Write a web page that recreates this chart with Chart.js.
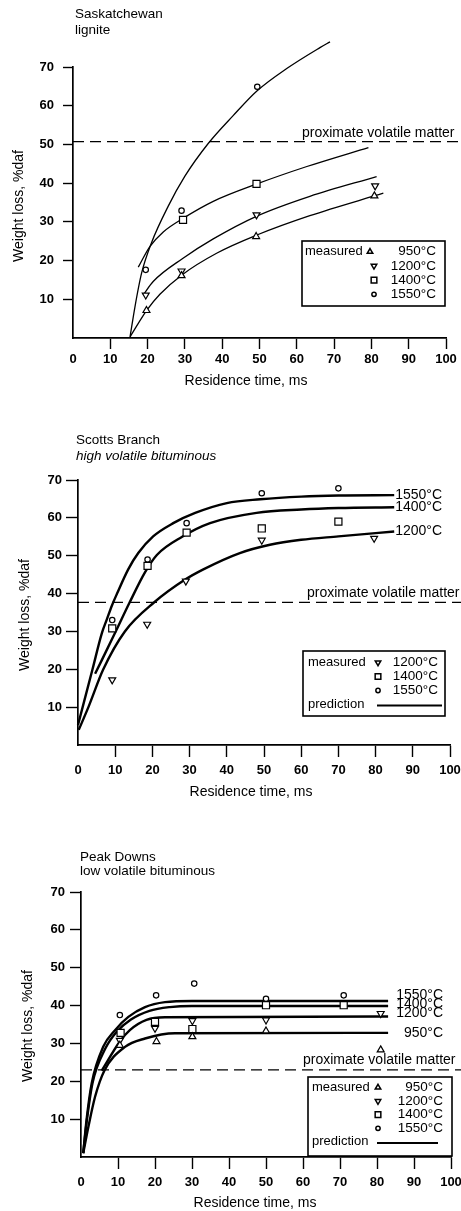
<!DOCTYPE html>
<html>
<head>
<meta charset="utf-8">
<script src="https://cdn.jsdelivr.net/npm/chart.js@4.4.1/dist/chart.umd.min.js"></script>
<style>
  html, body { margin: 0; padding: 0; background: #fff; }
  body { width: 461px; height: 1211px; position: relative; overflow: hidden; }
  canvas { position: absolute; left: 0; }
</style>
</head>
<body>
<canvas id="c1" width="461" height="400" style="top:0px"></canvas>
<canvas id="c2" width="461" height="400" style="top:400px"></canvas>
<canvas id="c3" width="461" height="411" style="top:800px"></canvas>
<script>
// ---- values: [residence time ms, weight loss %daf] ----
const timeTicks = [0, 10, 20, 30, 40, 50, 60, 70, 80, 90, 100];
const lossTicks = [10, 20, 30, 40, 50, 60, 70];

// Saskatchewan lignite
const sask950Pts  = [[19.7, 7.1], [29.1, 16.1], [49.1, 26.2], [80.8, 36.7]];
const sask1200Pts = [[19.5, 11.1], [29.1, 17.3], [49.2, 31.8], [81, 39.3]];
const sask1400Pts = [[29.5, 30.5], [49.2, 39.8]];
const sask1550Pts = [[19.5, 17.6], [29.1, 32.9], [49.4, 64.9], [66.9, 75.3]];
const sask950Curve  = [[15.3, 0.3], [19.8, 7.2], [23.3, 11.3], [29.2, 16.3], [38.5, 21.9], [49.3, 26.6], [63.5, 31.6], [83.2, 37.4]];
const sask1200Curve = [[18.8, 11.1], [21.5, 14.6], [29.5, 20.6], [37.6, 25.6], [49.3, 31.5], [63.5, 36.6], [81.4, 41.7]];
const sask1400Curve = [[17.5, 18.3], [20.6, 23.6], [24.2, 27.4], [29.5, 30.9], [37.6, 35.3], [49.3, 39.8], [62.7, 44.3], [79.2, 49.2]];
const sask1550Curve = [[15.3, 0.3], [16.6, 8], [18.4, 16.8], [21, 24.5], [25.5, 34], [30, 41.8], [36.3, 50.3], [43, 57.5], [49.3, 63.8], [57.3, 69.6], [66.2, 75], [68.9, 76.5]];
const saskProximate = 50.7;
const saskTemps = ['950', '1200', '1400', '1550'];

// Scotts Branch high volatile bituminous
const scotts1200Pts = [[9.2, 17.2], [18.6, 31.9], [29, 43.3], [49.4, 54.1], [79.6, 54.6]];
const scotts1400Pts = [[9.2, 30.8], [18.7, 47.3], [29.2, 56.1], [49.4, 57.2], [70, 59]];
const scotts1550Pts = [[9.2, 33], [18.7, 49], [29.2, 58.6], [49.4, 66.5], [70, 67.8]];
const scotts1200Curve = [[0.2, 4], [2.8, 10], [6.8, 20], [12.6, 30], [20.5, 37.7], [28.8, 43.7], [33.7, 46.4], [43.5, 50.7], [51.6, 52.9], [60, 54.2], [70, 55.1], [85, 56.4]];
const scotts1400Curve = [[4.6, 18.8], [10.2, 30.1], [13.8, 37.5], [18, 45.6], [21.2, 50.2], [28, 55], [35.5, 58.6], [48, 61.3], [60, 62.2], [70, 62.6], [85, 62.8]];
const scotts1550Curve = [[0, 5.3], [3.9, 20], [6.4, 29.5], [7.8, 33.3], [9.1, 36.8], [10.5, 40], [13.5, 46.4], [16.2, 50.7], [20.2, 55.1], [25.6, 58.6], [31.5, 61.3], [40, 63.9], [49, 64.9], [60, 65.6], [70, 65.9], [85, 66]];
const scottsProximate = 37.7;
const scottsTemps = ['1200', '1400', '1550'];

// Peak Downs low volatile bituminous
const peak950Pts  = [[10.5, 29.5], [20.4, 30.5], [30.1, 31.8], [50, 33.3], [81, 28.3]];
const peak1200Pts = [[10.5, 30.8], [20, 34], [30.1, 36], [50, 36.2], [81, 37.9]];
const peak1400Pts = [[10.7, 32.8], [20, 35.7], [30.1, 33.8], [50, 40.1], [71, 40.1]];
const peak1550Pts = [[10.5, 37.5], [20.3, 42.7], [30.6, 45.8], [50, 41.8], [71, 42.7]];
const peak950Curve  = [[0.6, 1], [2, 8], [3.8, 15.9], [6.3, 22.8], [11.9, 29.1], [17.3, 31.3], [25.4, 32.7], [83, 32.8]];
const peak1200Curve = [[5.6, 22.8], [10.5, 30.5], [13.2, 33.5], [17.7, 36.2], [22.7, 36.9], [83, 37.1]];
const peak1400Curve = [[0.6, 1], [1.6, 9.8], [3.1, 19.5], [6.5, 28.5], [9.6, 33], [13.5, 36.3], [18.5, 38.6], [24, 39.6], [30, 39.9], [83, 39.9]];
const peak1550Curve = [[0.6, 1], [1.5, 9.8], [2.9, 19.5], [6, 29.1], [9.2, 33.5], [12.8, 37], [17.3, 39.6], [22.7, 40.9], [30, 41.2], [83, 41.2]];
const peakProximate = 23.0;
const peakTemps = ['950', '1200', '1400', '1550'];

// ---- drawing ----
const INK = '#000';
const SANS = "'Liberation Sans', Arial, Helvetica, sans-serif";
const MARKS = {
  '950':  { pointStyle: 'triangle', rotation: 0,   radius: 4 },
  '1200': { pointStyle: 'triangle', rotation: 180, radius: 4 },
  '1400': { pointStyle: 'rect',     rotation: 0,   radius: 5 },
  '1550': { pointStyle: 'circle',   rotation: 0,   radius: 2.7 }
};
const xy = pts => pts.map(([x, y]) => ({ x, y }));
const last = arr => arr[arr.length - 1];

function curveSet(pts, width) {
  return { data: xy(pts), borderColor: INK, borderWidth: width, pointRadius: 0,
    cubicInterpolationMode: 'monotone', clip: false, order: 2 };
}
function pointSet(pts, temp) {
  const m = MARKS[temp];
  return { data: xy(pts), showLine: false, pointStyle: m.pointStyle, pointRotation: m.rotation,
    pointRadius: m.radius, pointBorderWidth: 1.2, pointBorderColor: INK,
    pointBackgroundColor: '#fff', clip: false, order: 1 };
}
function dashSet(level) {
  return { data: [{ x: 0, y: level }, { x: 104, y: level }], borderColor: INK, borderWidth: 1.3,
    borderDash: [11, 6], pointRadius: 0, clip: false, order: 3 };
}

function text(ctx, str, x, y, o = {}) {
  ctx.save();
  ctx.font = `${o.style || ''} ${o.size || 14}px ${SANS}`;
  ctx.fillStyle = INK;
  ctx.textAlign = o.align || 'left';
  ctx.textBaseline = 'middle';
  if (o.rotate) { ctx.translate(x, y); ctx.rotate(o.rotate); ctx.fillText(str, 0, 0); }
  else ctx.fillText(str, x, y);
  ctx.restore();
}
function mark(ctx, temp, x, y) {
  const m = MARKS[temp];
  ctx.save();
  ctx.strokeStyle = INK; ctx.fillStyle = '#fff'; ctx.lineWidth = 1.5;
  Chart.helpers.drawPoint(ctx, { pointStyle: m.pointStyle, rotation: m.rotation, radius: m.radius * 0.8, borderWidth: 1.5 }, x, y);
  ctx.restore();
}
function legend(ctx, lg) {
  ctx.save();
  ctx.strokeStyle = INK; ctx.lineWidth = 1.6;
  ctx.strokeRect(lg.x, lg.y, lg.w, lg.h);
  ctx.restore();
  lg.temps.forEach((t, i) => {
    const y = lg.row0 + i * lg.dy;
    if (i === 0) text(ctx, 'measured', lg.textLeft, y, { size: 13 });
    mark(ctx, t, i === 0 ? lg.firstMarkX : lg.markX, y);
    text(ctx, t + '°C', lg.tempRight, y, { size: 13.5, align: 'right' });
  });
  if (lg.prediction) {
    const y = lg.row0 + lg.temps.length * lg.dy;
    text(ctx, 'prediction', lg.textLeft, y, { size: 13 });
    ctx.save();
    ctx.strokeStyle = INK; ctx.lineWidth = 2;
    ctx.beginPath(); ctx.moveTo(lg.lineFrom, y + 1); ctx.lineTo(lg.lineTo, y + 1); ctx.stroke();
    ctx.restore();
  }
}

const extras = {};
const extrasPlugin = {
  id: 'extras',
  afterDraw(chart) {
    const fn = extras[chart.canvas.id];
    if (fn) fn(chart.ctx, chart.scales.x, chart.scales.y);
  }
};

function makePanel(id, height, area, ax, datasets) {
  const tickFont = { family: SANS, size: 13, weight: 'bold' };
  new Chart(document.getElementById(id), {
    type: 'line',
    data: { datasets },
    options: {
      responsive: false, animation: false, events: [],
      layout: { padding: { left: 0, right: 461 - area.right, top: area.top, bottom: 0 } },
      plugins: { legend: { display: false }, tooltip: { enabled: false } },
      scales: {
        x: {
          type: 'linear', min: 0, max: 100,
          afterBuildTicks: s => { s.ticks = timeTicks.map(v => ({ value: v })); },
          afterFit: s => { s.height = height - area.bottom; s.paddingLeft = 0; s.paddingRight = 0; },
          grid: { drawOnChartArea: false, tickLength: ax.xTick, tickWidth: 1.4,
            tickColor: c => (c.tick && c.tick.value === 0) ? 'rgba(0,0,0,0)' : INK },
          border: { color: INK, width: 1.7 },
          ticks: { color: INK, font: tickFont, padding: ax.xPad, maxRotation: 0, autoSkip: false }
        },
        y: {
          type: 'linear', min: 0, max: 70,
          afterBuildTicks: s => { s.ticks = lossTicks.map(v => ({ value: v })); },
          afterFit: s => { s.width = area.left; s.paddingTop = 0; s.paddingBottom = 0; },
          grid: { drawOnChartArea: false, tickLength: ax.yTick, tickWidth: 1.4, tickColor: INK },
          border: { color: INK, width: 1.7 },
          ticks: { color: INK, font: tickFont, padding: ax.yPad, autoSkip: false }
        }
      }
    },
    plugins: [extrasPlugin]
  });
}

// Panel 1 - Saskatchewan lignite
extras.c1 = (ctx, x, y) => {
  text(ctx, 'Saskatchewan', 75, 14, { size: 13.5 });
  text(ctx, 'lignite', 75, 30, { size: 13.5 });
  text(ctx, 'proximate volatile matter', 302, y.getPixelForValue(saskProximate) - 9);
  text(ctx, 'Weight loss, %daf', 19, 206, { rotate: -Math.PI / 2, align: 'center' });
  text(ctx, 'Residence time, ms', 246, 381, { align: 'center' });
  legend(ctx, { x: 302, y: 241, w: 143, h: 65, row0: 251.7, dy: 14.2, temps: saskTemps,
    textLeft: 305, firstMarkX: 370, markX: 374, tempRight: 436 });
};
makePanel('c1', 400, { left: 73, right: 446, top: 67, bottom: 338 },
  { xTick: 11, xPad: 3, yTick: 10, yPad: 9 },
  [
    curveSet(sask950Curve, 1.3), curveSet(sask1200Curve, 1.3),
    curveSet(sask1400Curve, 1.3), curveSet(sask1550Curve, 1.3),
    pointSet(sask950Pts, '950'), pointSet(sask1200Pts, '1200'),
    pointSet(sask1400Pts, '1400'), pointSet(sask1550Pts, '1550'),
    dashSet(saskProximate)
  ]);

// Panel 2 - Scotts Branch
extras.c2 = (ctx, x, y) => {
  text(ctx, 'Scotts Branch', 76, 40, { size: 13.5 });
  text(ctx, 'high volatile bituminous', 76, 56, { size: 13.5, style: 'italic' });
  text(ctx, 'proximate volatile matter', 307, y.getPixelForValue(scottsProximate) - 9);
  text(ctx, 'Weight loss, %daf', 25, 215, { rotate: -Math.PI / 2, align: 'center' });
  text(ctx, 'Residence time, ms', 251, 392, { align: 'center' });
  [[scotts1550Curve, '1550'], [scotts1400Curve, '1400'], [scotts1200Curve, '1200']].forEach(([c, t]) => {
    const p = last(c);
    text(ctx, t + '°C', x.getPixelForValue(p[0]) + 1, y.getPixelForValue(p[1]));
  });
  legend(ctx, { x: 303, y: 251, w: 142, h: 65, row0: 262.5, dy: 14, temps: scottsTemps,
    textLeft: 308, firstMarkX: 378, markX: 378, tempRight: 438, prediction: true, lineFrom: 377, lineTo: 442 });
};
makePanel('c2', 400, { left: 78, right: 450, top: 80, bottom: 345 },
  { xTick: 12, xPad: 6, yTick: 12, yPad: 4 },
  [
    curveSet(scotts1200Curve, 2.4), curveSet(scotts1400Curve, 2.4), curveSet(scotts1550Curve, 2.4),
    pointSet(scotts1200Pts, '1200'), pointSet(scotts1400Pts, '1400'), pointSet(scotts1550Pts, '1550'),
    dashSet(scottsProximate)
  ]);

// Panel 3 - Peak Downs
extras.c3 = (ctx, x, y) => {
  text(ctx, 'Peak Downs', 80, 57, { size: 13.5 });
  text(ctx, 'low volatile bituminous', 80, 71, { size: 13.5 });
  text(ctx, 'proximate volatile matter', 303, y.getPixelForValue(peakProximate) - 10);
  text(ctx, 'Weight loss, %daf', 28, 226, { rotate: -Math.PI / 2, align: 'center' });
  text(ctx, 'Residence time, ms', 255, 403, { align: 'center' });
  [[peak1550Curve, '1550', -6], [peak1400Curve, '1400', -2], [peak1200Curve, '1200', -3], [peak950Curve, '950', 0]]
    .forEach(([c, t, dy]) => {
      text(ctx, t + '°C', 443, y.getPixelForValue(last(c)[1]) + dy, { align: 'right' });
    });
  legend(ctx, { x: 308, y: 277, w: 144, h: 79, row0: 287.5, dy: 13.6, temps: peakTemps,
    textLeft: 312, firstMarkX: 378, markX: 378, tempRight: 443, prediction: true, lineFrom: 377, lineTo: 438 });
};
makePanel('c3', 411, { left: 81, right: 451, top: 92, bottom: 357 },
  { xTick: 12, xPad: 6, yTick: 11, yPad: 5 },
  [
    curveSet(peak950Curve, 2.4), curveSet(peak1200Curve, 2.4),
    curveSet(peak1400Curve, 2.4), curveSet(peak1550Curve, 2.4),
    pointSet(peak950Pts, '950'), pointSet(peak1200Pts, '1200'),
    pointSet(peak1400Pts, '1400'), pointSet(peak1550Pts, '1550'),
    dashSet(peakProximate)
  ]);
</script>
</body>
</html>
